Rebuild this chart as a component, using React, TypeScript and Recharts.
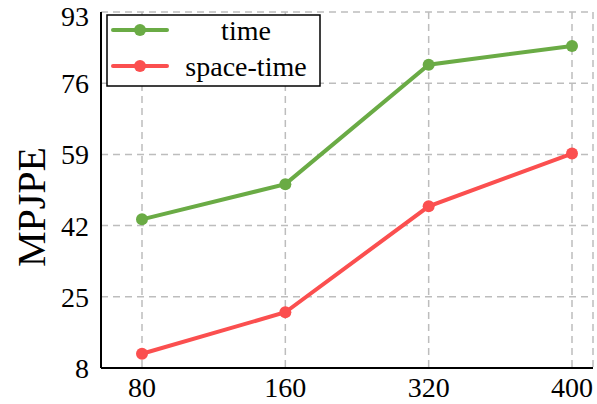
import React from "react";
import {
  LineChart,
  Line,
  XAxis,
  YAxis,
  CartesianGrid,
} from "recharts";

const frames = ["80", "160", "320", "400"];
const timeErr = [43.5, 51.9, 80.4, 84.9];
const spaceTimeErr = [11.4, 21.3, 46.6, 59.2];
const yTicks = [8, 25, 42, 59, 76, 93];

const GREEN = "#6aab45";
const RED = "#fb4f4f";
const FONT = "Liberation Serif, Times New Roman, DejaVu Serif, serif";

const data = frames.map((f, i) => ({
  frames: f,
  time: timeErr[i],
  spaceTime: spaceTimeErr[i],
}));

const series = [
  { key: "time", name: "time", color: GREEN },
  { key: "spaceTime", name: "space-time", color: RED },
];

function LegendBox() {
  return (
    <svg width={215} height={73} style={{ display: "block", fontFamily: FONT }}>
      <rect x={1} y={1} width={213} height={71} fill="#fff" stroke="#000" strokeWidth={1.5} />
      {series.map((s, i) => {
        const cy = 16 + i * 36;
        return (
          <g key={s.key}>
            <line x1={7} x2={61} y1={cy} y2={cy} stroke={s.color} strokeWidth={4} strokeLinecap="round" />
            <circle cx={34} cy={cy} r={6} fill={s.color} />
            <text
              x={140}
              y={cy}
              dy="0.35em"
              textAnchor="middle"
              style={{ fontFamily: FONT, fontSize: 28 }}
              fill="#000"
            >
              {s.name}
            </text>
          </g>
        );
      })}
    </svg>
  );
}

// rotated axis title, sitting a little below the plot's vertical centre
function YTitle({ viewBox }: any) {
  const x = viewBox.x + 31;
  const y = viewBox.y + viewBox.height / 2 + 17;
  return (
    <text
      x={x}
      y={y}
      transform={`rotate(-90, ${x}, ${y})`}
      textAnchor="middle"
      dominantBaseline="central"
      style={{ fontFamily: FONT, fontSize: 40 }}
      fill="#000"
    >
      MPJPE
    </text>
  );
}

export default function App() {
  const tickStyle = { fontSize: 28, fill: "#000", style: { fontFamily: FONT } };
  return (
    <div
      style={{
        position: "absolute",
        left: 0,
        top: 0,
        width: 597,
        height: 404,
        background: "#fff",
        fontFamily: FONT,
      }}
    >
      <LineChart
        width={597}
        height={404}
        data={data}
        margin={{ top: 12, right: 4, left: 0, bottom: 0 }}
        style={{ fontFamily: FONT }}
      >
        <CartesianGrid stroke="#bdbdbd" strokeDasharray="7 5" strokeWidth={1.5} />
        <XAxis
          dataKey="frames"
          height={36}
          padding={{ left: 41, right: 21 }}
          tickLine={false}
          tickSize={0}
          tickMargin={9}
          tick={tickStyle}
          axisLine={{ stroke: "#000", strokeWidth: 2 }}
        />
        <XAxis
          xAxisId="top"
          dataKey="frames"
          orientation="top"
          height={0}
          tick={false}
          tickLine={false}
          axisLine={{ stroke: "#000", strokeWidth: 2 }}
        />
        <YAxis
          domain={[8, 93]}
          ticks={yTicks}
          width={101}
          tickLine={false}
          tickSize={0}
          tickMargin={12}
          tick={tickStyle}
          axisLine={{ stroke: "#000", strokeWidth: 2 }}
          label={(props: any) => <YTitle {...props} />}
        />
        <YAxis
          yAxisId="right"
          orientation="right"
          domain={[8, 93]}
          width={0}
          tick={false}
          tickLine={false}
          axisLine={{ stroke: "#000", strokeWidth: 2 }}
        />
        {series.map((s) => (
          <Line
            key={s.key}
            dataKey={s.key}
            name={s.name}
            stroke={s.color}
            strokeWidth={4}
            dot={{ r: 6, fill: s.color, stroke: "none" }}
            activeDot={false}
            isAnimationActive={false}
          />
        ))}
      </LineChart>
      <div style={{ position: "absolute", left: 106, top: 14 }}>
        <LegendBox />
      </div>
    </div>
  );
}
